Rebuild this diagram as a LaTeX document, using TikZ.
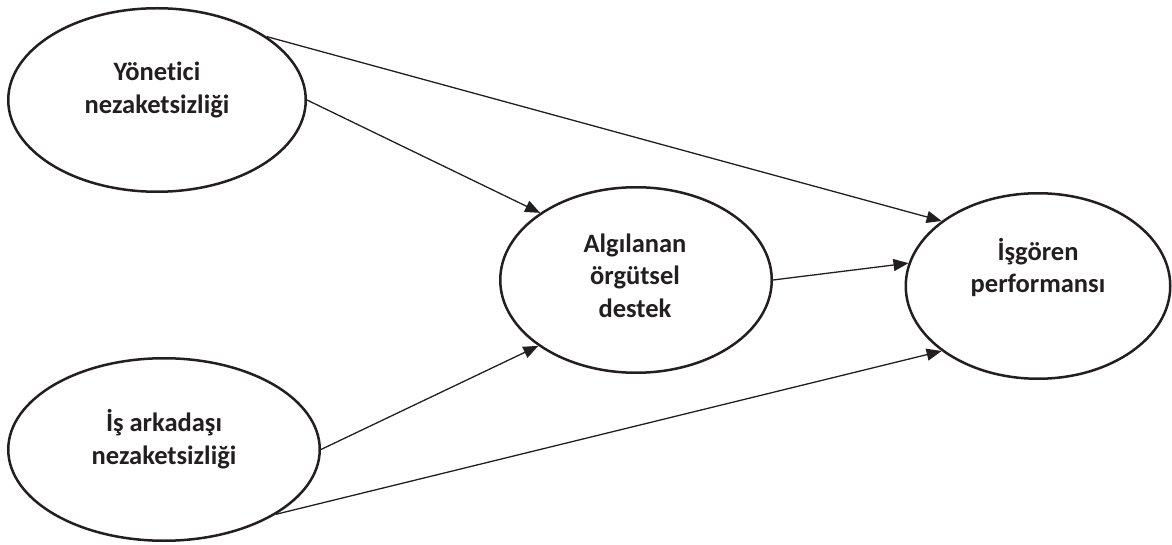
\documentclass[tikz,border=0pt]{standalone}
\usepackage{fontspec}
\setmainfont[Ligatures=NoCommon]{Carlito}
\usetikzlibrary{shapes.geometric,arrows.meta}
\definecolor{ink}{HTML}{231F20}
\tikzset{
  ell/.style={ellipse, draw=ink, line width=2.5pt, inner sep=0pt, fill=white},
  lbl/.style={align=center, text=ink, font=\fontsize{26.5}{32.5}\selectfont\bfseries, inner sep=0pt},
  conn/.style={draw=ink, line width=1.3pt, -{Triangle[length=15pt,width=12pt]}}
}
\begin{document}
\begin{tikzpicture}[x=1pt,y=1pt]
\useasboundingbox (0,0) rectangle (1172,544);
% ellipses (y measured upward: Y = 544 - y_px)
\node[ell, minimum width=297.5pt, minimum height=183.5pt] (A) at (157,444) {};
\node[ell, minimum width=311.5pt, minimum height=182.5pt] (B) at (164,94.5) {};
\node[ell, minimum width=271.5pt, minimum height=185.5pt] (C) at (636,264) {};
\node[ell, minimum width=264.5pt, minimum height=185.5pt] (D) at (1038,258) {};
% labels
\node[lbl] (At) at (157,454) {Yönetici\\nezaketsizliği};
\node[lbl] (Bt) at (164,105) {İş arkadaşı\\nezaketsizliği};
\node[lbl] (Ct) at (635,268.5) {Algılanan\\örgütsel\\destek};
\node[lbl] (Dt) at (1038,276.5) {İşgören\\performansı};
% connectors
\draw[conn] (A.30.6) -- (D.146);
\draw[conn] (A.east) -- (C.145.4);
\draw[conn] (B.east) -- (C.214.6);
\draw[conn] (B.330.5) -- (D.214.8);
\draw[conn] (C.east) -- (D.170.6);
\end{tikzpicture}
\end{document}
